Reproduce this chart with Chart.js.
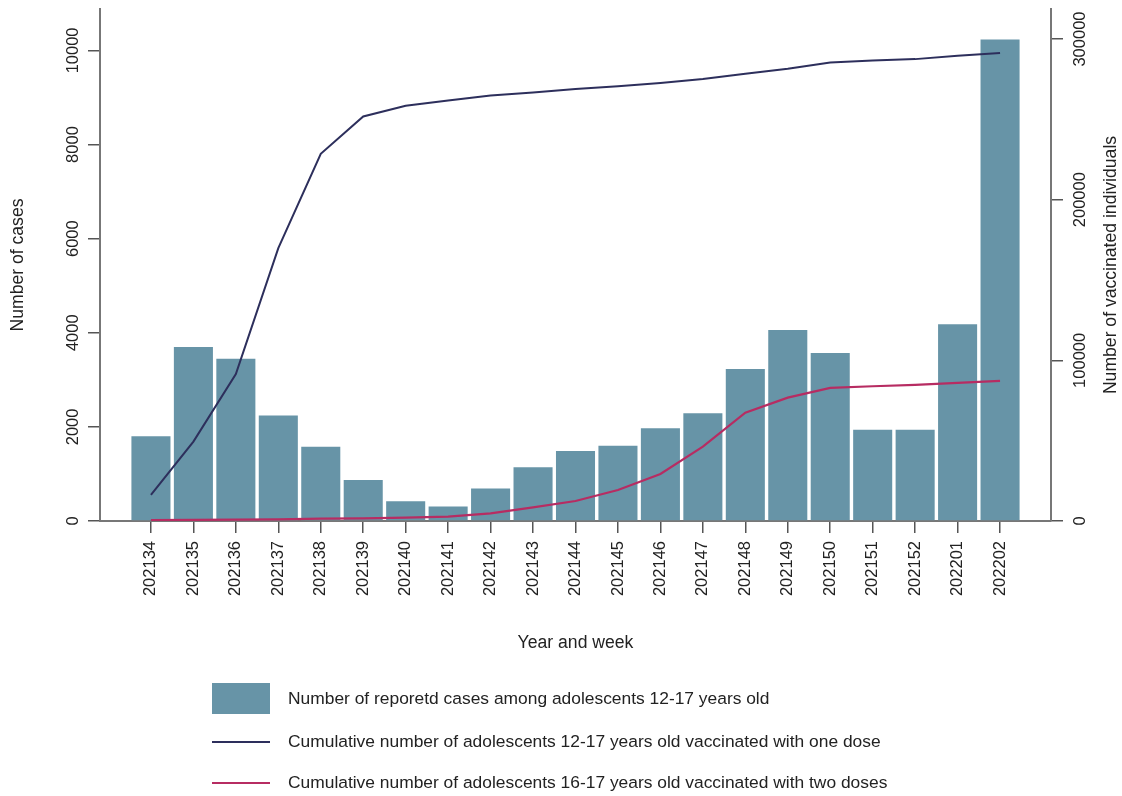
<!DOCTYPE html>
<html>
<head>
<meta charset="utf-8">
<script src="https://cdn.jsdelivr.net/npm/chart.js@4/dist/chart.umd.min.js"></script>
<style>
  body { margin: 0; background: #fff; }
  #wrap { position: relative; width: 1122px; height: 796px; }
  #legend { position: absolute; left: 212px; top: 683px; font-family: "Liberation Sans", Arial, sans-serif; font-size: 17.4px; color: #222; }
  .sym { position: absolute; left: 0; }
  .txt { position: absolute; left: 76px; white-space: nowrap; }
</style>
</head>
<body>
<div id="wrap">
  <canvas id="chart" width="1122" height="796"></canvas>
  <div id="legend"></div>
</div>
<script>
// weeks (year + week number)
const weeks = ["202134", "202135", "202136", "202137", "202138", "202139", "202140",
  "202141", "202142", "202143", "202144", "202145", "202146", "202147", "202148",
  "202149", "202150", "202151", "202152", "202201", "202202"];

// reported cases, adolescents 12-17 (left axis)
const cases = [1800, 3700, 3450, 2240, 1580, 870, 420, 310, 690, 1140, 1490,
  1600, 1970, 2290, 3230, 4060, 3570, 1940, 1940, 4180, 10230];

// cumulative vaccinated, one dose 12-17 (right axis)
const oneDose = [16200, 49400, 91500, 169800, 228600, 251800, 258500, 261800, 264900,
  266700, 268900, 270600, 272600, 275100, 278400, 281500, 285400, 286700, 287500, 289600, 291300];

// cumulative vaccinated, two doses 16-17 (right axis)
const twoDoses = [620, 750, 810, 1060, 1430, 1680, 2060, 2680, 4800, 8530, 12460,
  19310, 29270, 46270, 67450, 76790, 82830, 83890, 84700, 85940, 87190];

const casesTicks = [0, 2000, 4000, 6000, 8000, 10000];
const vaccTicks = [0, 100000, 200000, 300000];

const labels = [
  "Number of reporetd cases among adolescents 12-17 years old",
  "Cumulative number of adolescents 12-17 years old vaccinated with one dose",
  "Cumulative number of adolescents 16-17 years old vaccinated with two doses"
];

const FONT = '"Liberation Sans", Arial, sans-serif';
const BAR = "#6794a7", NAVY = "#2d2f5c", RED = "#b72c62", TXT = "#222";

const pts = (arr) => arr.map((v, i) => ({ x: i, y: v }));

// y tick labels and y titles read bottom-to-top, so draw them here
const yLabels = {
  id: "yLabels",
  afterDraw(chart) {
    const ctx = chart.ctx;
    const area = chart.chartArea;
    const mid = (area.top + area.bottom) / 2;
    ctx.save();
    ctx.fillStyle = TXT;
    ctx.textAlign = "center";
    ctx.textBaseline = "middle";
    const put = (text, x, y, size) => {
      ctx.save();
      ctx.font = size + "px " + FONT;
      ctx.translate(x, y);
      ctx.rotate(-Math.PI / 2);
      ctx.fillText(text, 0, 0);
      ctx.restore();
    };
    const yl = chart.scales.y, yr = chart.scales.y2;
    yl.ticks.forEach((t) => put(String(t.value), 73, yl.getPixelForValue(t.value), 16.5));
    yr.ticks.forEach((t) => put(String(t.value), 1080, yr.getPixelForValue(t.value), 16.5));
    put("Number of cases", 18, mid, 17.6);
    put("Number of vaccinated individuals", 1111, mid, 17.6);
    ctx.restore();
  }
};

const axisGrid = { drawOnChartArea: false, drawTicks: true, tickLength: 12, color: "#555", lineWidth: 1.5, offset: false };
const axisBorder = { display: true, color: "#777", width: 2 };

new Chart(document.getElementById("chart"), {
  type: "bar",
  data: {
    datasets: [
      {
        type: "line", label: labels[1], data: pts(oneDose), yAxisID: "y2",
        borderColor: NAVY, borderWidth: 2, pointRadius: 0, tension: 0, order: 1
      },
      {
        type: "line", label: labels[2], data: pts(twoDoses), yAxisID: "y2",
        borderColor: RED, borderWidth: 2.2, pointRadius: 0, tension: 0, order: 1
      },
      {
        label: labels[0], data: pts(cases), yAxisID: "y",
        backgroundColor: BAR, categoryPercentage: 1, barPercentage: 0.92, order: 2
      }
    ]
  },
  options: {
    responsive: false,
    animation: false,
    layout: { padding: { top: 9, bottom: 130, left: 0, right: 0 } },
    plugins: { legend: { display: false }, tooltip: { enabled: false } },
    scales: {
      x: {
        type: "linear",
        offset: false,
        min: -1.2,
        max: 21.2,
        afterBuildTicks: (s) => { s.ticks = weeks.map((w, i) => ({ value: i })); },
        afterFit: (s) => { s.height = 145; },
        grid: axisGrid,
        border: axisBorder,
        ticks: {
          autoSkip: false, minRotation: 90, maxRotation: 90, padding: 8,
          color: TXT, font: { family: FONT, size: 16.5 },
          callback: (v) => weeks[v]
        },
        title: {
          display: true, text: "Year and week", color: TXT,
          font: { family: FONT, size: 17.6 }, padding: { top: 0, bottom: 12 }
        }
      },
      y: {
        position: "left",
        min: 0,
        max: 10880,
        afterBuildTicks: (s) => { s.ticks = casesTicks.map((v) => ({ value: v })); },
        afterFit: (s) => { s.width = 100; },
        grid: axisGrid,
        border: axisBorder,
        ticks: { display: false }
      },
      y2: {
        position: "right",
        min: 0,
        max: 318700,
        afterBuildTicks: (s) => { s.ticks = vaccTicks.map((v) => ({ value: v })); },
        afterFit: (s) => { s.width = 71; },
        grid: axisGrid,
        border: axisBorder,
        ticks: { display: false }
      }
    }
  },
  plugins: [yLabels]
});

// legend below the chart
const legend = document.getElementById("legend");
const syms = [
  '<div class="sym" style="top:0;width:58px;height:31px;background:' + BAR + '"></div>',
  '<div class="sym" style="top:19px;width:58px;height:2px;background:' + NAVY + '"></div>',
  '<div class="sym" style="top:19px;width:58px;height:2px;background:' + RED + '"></div>'
];
const tops = [0, 39, 80];
labels.forEach((l, i) => {
  const d = document.createElement("div");
  d.style.position = "absolute";
  d.style.top = tops[i] + "px";
  d.style.width = "850px";
  d.innerHTML = syms[i] + '<div class="txt" style="top:' + (i === 0 ? 5 : 9) + 'px">' + l + "</div>";
  legend.appendChild(d);
});
</script>
</body>
</html>
